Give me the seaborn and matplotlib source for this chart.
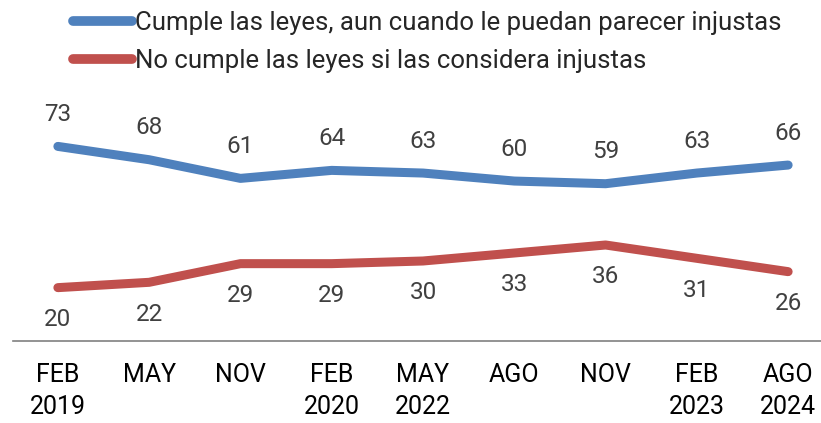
import numpy as np
import pandas as pd
import matplotlib
matplotlib.use("Agg")
import matplotlib.pyplot as plt
import seaborn as sns

periods = ["FEB\n2019", "MAY", "NOV", "FEB\n2020", "MAY\n2022", "AGO", "NOV", "FEB\n2023", "AGO\n2024"]
cumple = [73, 68, 61, 64, 63, 60, 59, 63, 66]
no_cumple = [20, 22, 29, 29, 30, 33, 36, 31, 26]
series_names = ["Cumple las leyes, aun cuando le puedan parecer injustas",
                "No cumple las leyes si las considera injustas"]
colors = ["#4f81bd", "#c0504d"]

sns.set_theme(style="white")
plt.rcParams["font.family"] = ["Roboto", "DejaVu Sans"]

df = pd.DataFrame({
    "x": list(range(len(periods))) * 2,
    "valor": cumple + no_cumple,
    "serie": [series_names[0]] * len(periods) + [series_names[1]] * len(periods),
})

fig = plt.figure(figsize=(8.21, 4.23), dpi=100)
ax = fig.add_axes([0.016, 0.194, 0.984, 0.63])

sns.lineplot(data=df, x="x", y="valor", hue="serie", palette=colors,
             linewidth=6.5, ax=ax, legend=False, solid_capstyle="round")

# value labels: above for blue, below for red
for i, v in enumerate(cumple):
    ax.annotate(str(v), (i, v), xytext=(0, 23), textcoords="offset points",
                ha="center", va="center", fontsize=17.5, color="#404040")
for i, v in enumerate(no_cumple):
    ax.annotate(str(v), (i, v), xytext=(0, -23), textcoords="offset points",
                ha="center", va="center", fontsize=17.5, color="#404040")

ax.set_xlim(-0.49, 8.36)
ax.set_ylim(0, 100)
ax.set_xticks(range(len(periods)))
ax.set_xticklabels(periods, fontsize=18, color="black", linespacing=1.4)
ax.tick_params(axis="x", length=0, pad=16)
ax.set_yticks([])
ax.set_xlabel("")
ax.set_ylabel("")
for s in ["top", "left", "right"]:
    ax.spines[s].set_visible(False)
ax.spines["bottom"].set_color("#808080")
ax.spines["bottom"].set_linewidth(1.2)

handles = [plt.Line2D([0], [0], color=c, lw=7, solid_capstyle="round") for c in colors]
fig.legend(handles, series_names, loc="upper left", bbox_to_anchor=(0.07, 1.01),
           frameon=False, fontsize=18.5, handlelength=2.3, handletextpad=0.12,
           labelspacing=0.55, borderpad=0.1)

fig.savefig("out.png", dpi=100)
